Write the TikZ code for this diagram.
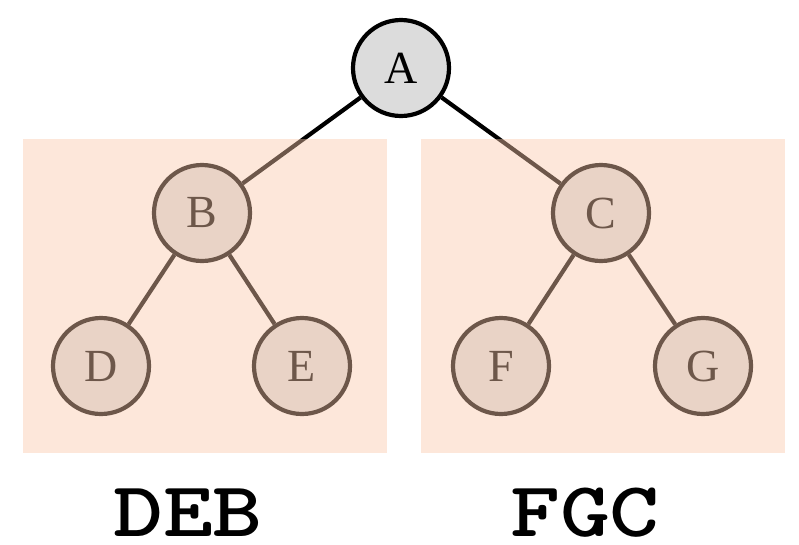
\documentclass[tikz,border=0pt]{standalone}
\usepackage{fontspec}
\setmainfont{Liberation Serif}
\definecolor{nodegray}{HTML}{DCDCDC}
\definecolor{peach}{RGB}{250,200,170}
\newcommand{\wideorder}[1]{\scalebox{1.22}[1]{#1}}
\begin{document}
\begin{tikzpicture}[x=1pt, y=-1pt, line width=4.2pt,
    every node/.style={circle, draw, fill=nodegray, minimum size=96pt, inner sep=0pt, text=black, font=\fontsize{46}{50}\selectfont},
    part/.style={fill=peach, fill opacity=0.44, draw=none},
    order/.style={draw=none, fill=none, rectangle, anchor=base, inner sep=0pt, font=\ttfamily\bfseries\fontsize{78}{90}\selectfont, text=black}]
        \useasboundingbox (0, 0) rectangle (799, 544);
        \node (A) at (401, 68) {A};
        \node (B) at (202, 213) {B};
        \node (C) at (601, 213) {C};
        \node (D) at (101, 366) {D};
        \node (E) at (302, 366) {E};
        \node (F) at (501, 366) {F};
        \node (G) at (703, 366) {G};
        \draw (A) -- (B);
        \draw (A) -- (C);
        \draw (B) -- (D);
        \draw (B) -- (E);
        \draw (C) -- (F);
        \draw (C) -- (G);
        \fill[part] (23, 139) rectangle (387, 453);
        \fill[part] (421, 139) rectangle (785, 453);
        \node[order] (left) at (188, 536) {\wideorder{DEB}};
        \node[order] (right) at (585, 536) {\wideorder{FGC}};
    \end{tikzpicture}
\end{document}
